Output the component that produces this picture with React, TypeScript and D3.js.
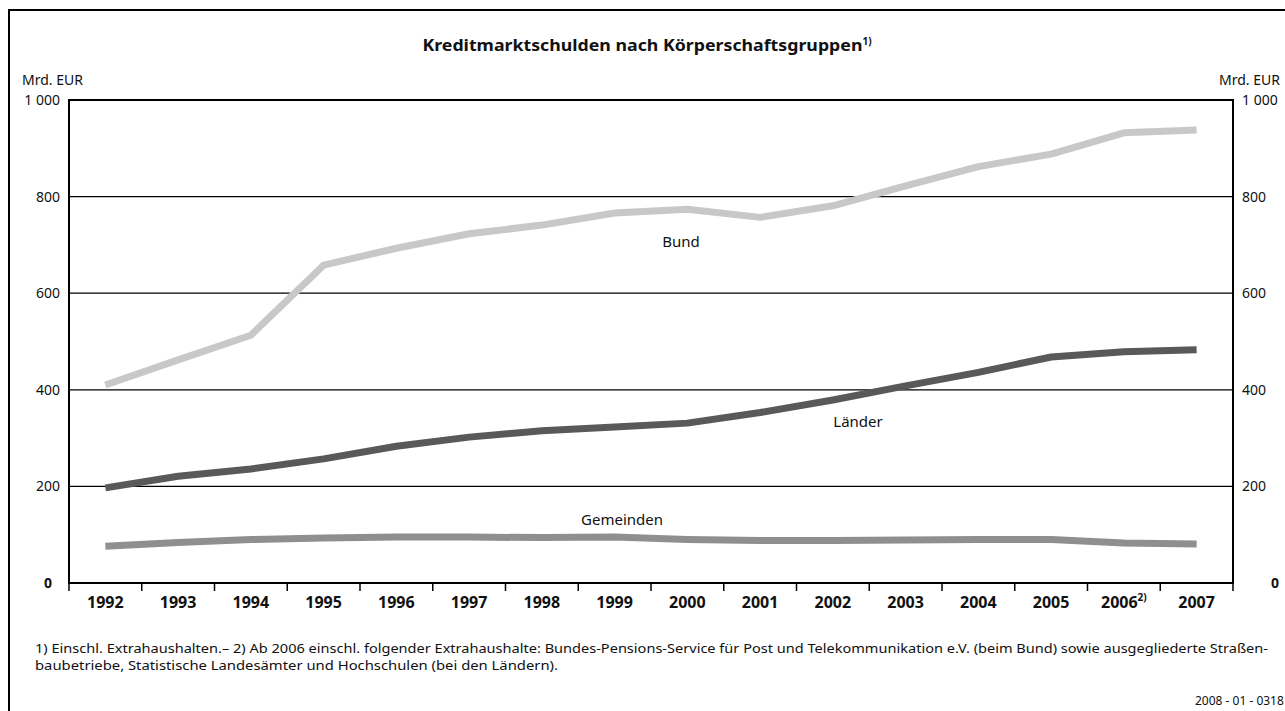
import * as d3 from 'd3';

const years = ['1992', '1993', '1994', '1995', '1996', '1997', '1998', '1999', '2000', '2001', '2002', '2003', '2004', '2005', '2006', '2007'];
const bund = [410, 462, 513, 658, 693, 723, 741, 766, 774, 757, 781, 822, 862, 888, 932, 938];
const laender = [197, 221, 236, 257, 283, 302, 315, 323, 331, 353, 379, 408, 436, 468, 479, 483];
const gemeinden = [76, 84, 90, 93, 95, 95, 94, 95, 90, 88, 88, 89, 90, 90, 83, 81];
const yTicks = [0, 200, 400, 600, 800, 1000];

const WIDTH = 1285;
const HEIGHT = 711;
const margin = { left: 69, right: 1233, top: 100, bottom: 583 };
const FONT = '"Noto Sans", sans-serif';

const fmt = d3.formatLocale({ thousands: ' ', grouping: [3], decimal: ',', currency: ['', ''] }).format(',d');

export default function App() {
  const x = d3.scaleBand<string>().domain(years).range([margin.left, margin.right]).padding(0);
  const y = d3.scaleLinear().domain([0, 1000]).range([margin.bottom, margin.top]);
  const cx = (i: number) => (x(years[i]) ?? 0) + x.bandwidth() / 2;

  const line = d3
    .line<number>()
    .x((_, i) => cx(i))
    .y((d) => y(d));

  const series = [
    { name: 'Bund', values: bund, color: '#c8c8c8', label: { x: 681, y: 247 } },
    { name: 'Länder', values: laender, color: '#595959', label: { x: 858, y: 427 } },
    { name: 'Gemeinden', values: gemeinden, color: '#8f8f8f', label: { x: 622, y: 525 } },
  ];

  return (
    <svg
      width={WIDTH}
      height={HEIGHT}
      style={{ position: 'absolute', left: 0, top: 0, background: '#fff', fontFamily: FONT }}
    >
      {/* outer frame, runs off the page at right/bottom */}
      <rect x={9} y={10} width={1300} height={720} fill="none" stroke="#000" strokeWidth={2} />

      <text x={647} y={51} textAnchor="middle" fontSize={16} fontWeight="bold" fill="#111">
        <tspan textLength={440} lengthAdjust="spacingAndGlyphs">Kreditmarktschulden nach Körperschaftsgruppen</tspan>
        <tspan fontSize={10} dy={-6}>1)</tspan>
      </text>

      <text x={22} y={85} fontSize={14} fill="#111">Mrd. EUR</text>
      <text x={1280} y={85} fontSize={14} fill="#111" textAnchor="end">Mrd. EUR</text>

      {/* gridlines */}
      {yTicks
        .filter((t) => t > 0 && t < 1000)
        .map((t) => (
          <line key={t} x1={margin.left} x2={margin.right} y1={y(t)} y2={y(t)} stroke="#000" strokeWidth={1.2} />
        ))}

      {/* y tick labels */}
      {yTicks.map((t) =>
        t === 0 ? (
          <g key={t} fontWeight="bold" fontSize={14} fill="#111">
            <text x={52} y={y(t)} dy="0.35em" textAnchor="end">{fmt(t)}</text>
            <text x={1271} y={y(t)} dy="0.35em">{fmt(t)}</text>
          </g>
        ) : (
          <g key={t} fontSize={14} fill="#111">
            <text x={60} y={y(t)} dy="0.35em" textAnchor="end">{fmt(t)}</text>
            <text x={1242} y={y(t)} dy="0.35em">{fmt(t)}</text>
          </g>
        )
      )}

      {/* series */}
      {series.map((s) => (
        <path
          key={s.name}
          d={line(s.values) ?? ''}
          fill="none"
          stroke={s.color}
          strokeWidth={7}
          strokeLinecap="butt"
          strokeLinejoin="round"
        />
      ))}
      {series.map((s) => (
        <text key={s.name} x={s.label.x} y={s.label.y} textAnchor="middle" fontSize={15} fill="#111">
          {s.name}
        </text>
      ))}

      {/* plot frame */}
      <rect
        x={margin.left}
        y={margin.top}
        width={margin.right - margin.left}
        height={margin.bottom - margin.top}
        fill="none"
        stroke="#000"
        strokeWidth={2}
      />

      {/* x ticks at band boundaries */}
      {years.map((yr) => (
        <line key={yr} x1={x(yr)} x2={x(yr)} y1={margin.bottom} y2={margin.bottom + 8} stroke="#000" strokeWidth={1.5} />
      ))}
      <line x1={margin.right} x2={margin.right} y1={margin.bottom} y2={margin.bottom + 8} stroke="#000" strokeWidth={1.5} />

      {years.map((yr, i) => (
        <text key={yr} x={cx(i)} y={608} textAnchor="middle" fontSize={16} fontWeight="bold" fill="#111">
          {yr}
          {yr === '2006' ? <tspan fontSize={10} dy={-7}>2)</tspan> : null}
        </text>
      ))}

      {/* footnotes */}
      <text x={35} y={653} fontSize={12} fill="#111" textLength={1233} lengthAdjust="spacingAndGlyphs">
        1) Einschl. Extrahaushalten.– 2) Ab 2006 einschl. folgender Extrahaushalte: Bundes-Pensions-Service für Post und Telekommunikation e.V. (beim Bund) sowie ausgegliederte Straßen-
      </text>
      <text x={35} y={670} fontSize={12} fill="#111" textLength={523} lengthAdjust="spacingAndGlyphs">
        baubetriebe, Statistische Landesämter und Hochschulen (bei den Ländern).
      </text>
      <text x={1195} y={705} fontSize={12} fill="#111">2008 - 01 - 0318</text>
    </svg>
  );
}
